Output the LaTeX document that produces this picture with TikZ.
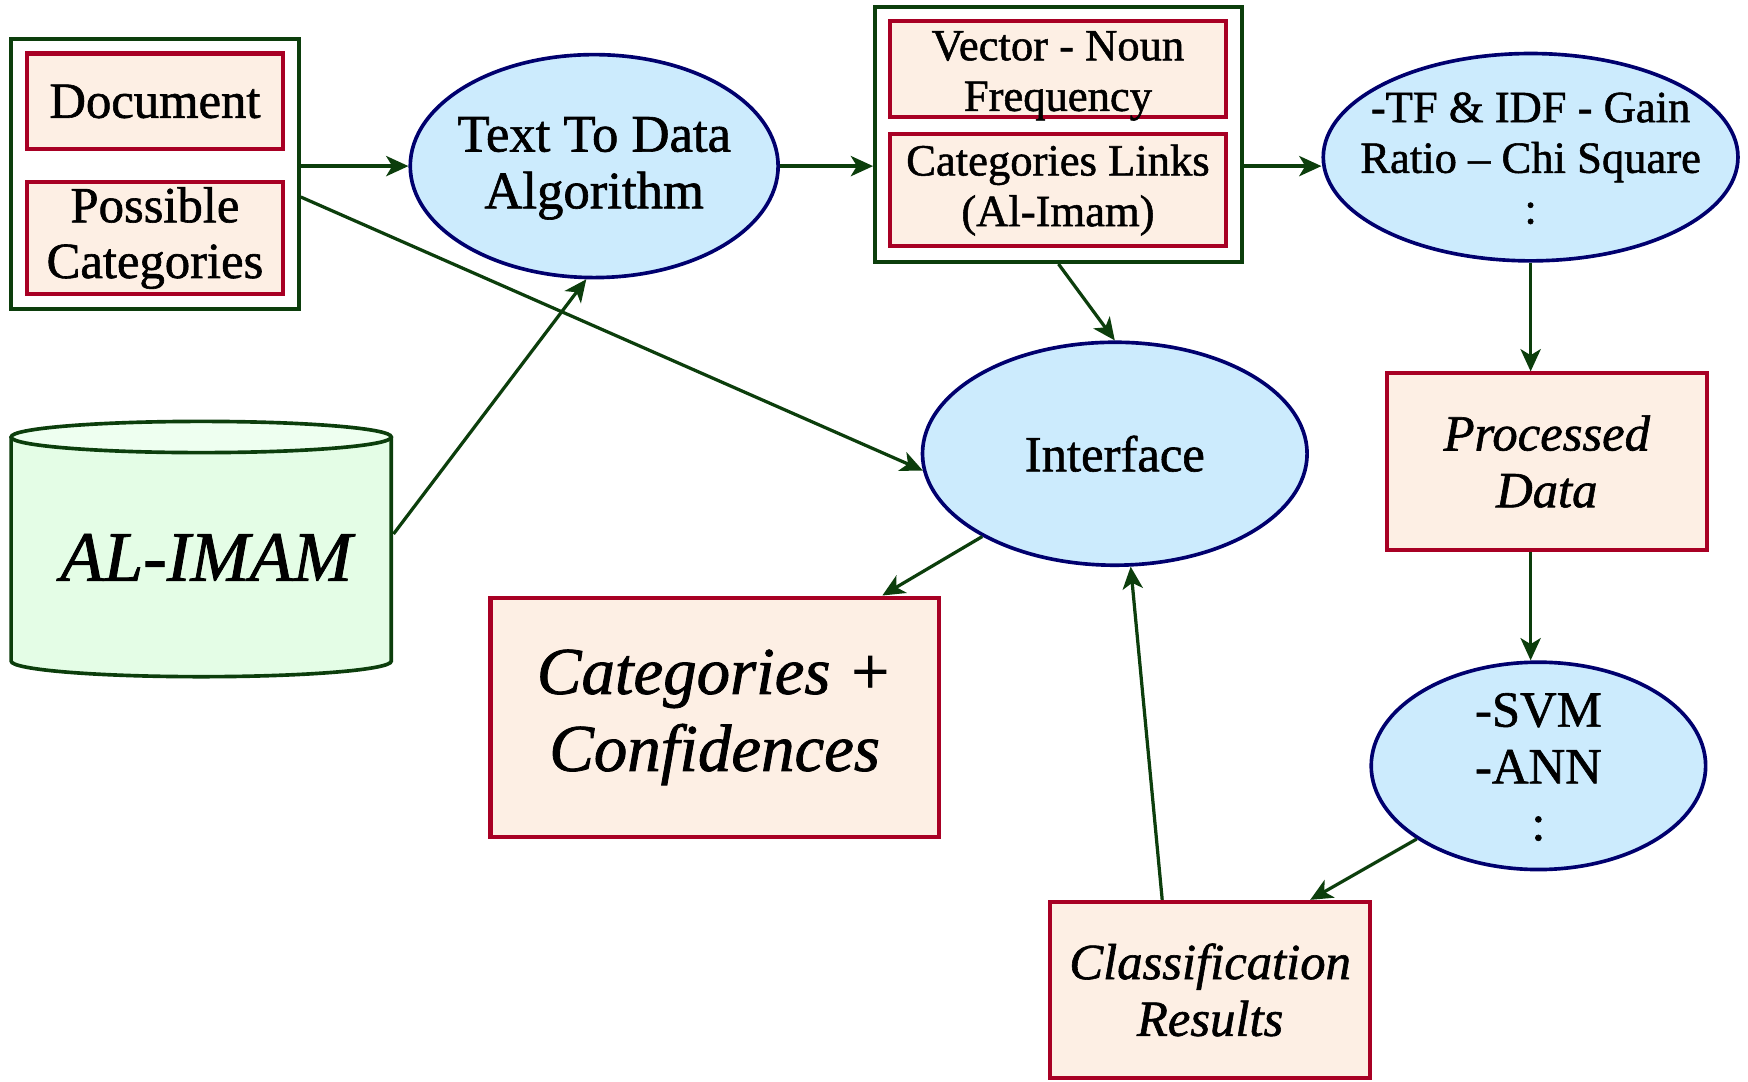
\documentclass[tikz,border=0pt]{standalone}
\usepackage{fontspec}
\setmainfont{Liberation Serif}[FakeBold=1.2]
\usetikzlibrary{arrows.meta,shapes.geometric}
\definecolor{dkgreen}{RGB}{12,62,12}
\definecolor{crimson}{RGB}{168,0,36}
\definecolor{peach}{RGB}{253,239,228}
\definecolor{skyb}{RGB}{204,235,253}
\definecolor{navyb}{RGB}{0,0,110}
\definecolor{cylfill}{RGB}{228,253,230}
\definecolor{cyltop}{RGB}{238,255,240}
\begin{document}
\begin{tikzpicture}[x=0.55pt,y=0.55pt,
  outerbox/.style={draw=dkgreen, line width=2pt, fill=white, inner sep=0pt},
  redbox/.style={draw=crimson, fill=peach, line width=2pt, inner sep=0pt, align=center},
  oval/.style={ellipse, draw=navyb, fill=skyb, line width=1.8pt, inner sep=0pt},
  label/.style={align=center, inner sep=0pt},
  conn/.style={draw=dkgreen, line width=1.6pt, -{Stealth[length=11pt,width=10pt,inset=3pt]}},
  big/.style={font=\fontsize{25}{27.5}\selectfont},
  mid/.style={font=\fontsize{22}{25}\selectfont}]
\useasboundingbox (0,0) rectangle (1568,-970);

% left group
\node[outerbox, minimum width=141.9pt, minimum height=133.1pt] (box1) at (139,-156) {};
\node[redbox, big, minimum width=126.5pt, minimum height=47.3pt] (doc) at (139,-91) {Document};
\node[redbox, big, minimum width=126.5pt, minimum height=55.55pt] (poss) at (139,-213.5) {Possible\\Categories};

% text to data
\node[oval, minimum width=181.5pt, minimum height=110pt] (t2d) at (533,-149) {};
\node[label, font=\fontsize{26}{28}\selectfont] (t2dtxt) at (533,-151) {Text To Data\\Algorithm};

% middle group
\node[outerbox, minimum width=180.95pt, minimum height=125.95pt] (box2) at (949.5,-120.5) {};
\node[redbox, minimum width=166.1pt, minimum height=47.3pt] (vec) at (949,-62) {};
\node[label, mid] (vectxt) at (949,-68) {Vector - Noun\\Frequency};
\node[redbox, mid, minimum width=166.1pt, minimum height=55.55pt] (catl) at (949,-170.5) {Categories Links\\(Al-Imam)};

% TF ellipse
\node[oval, minimum width=204.6pt, minimum height=102.3pt] (tf) at (1373,-141) {};
\node[label, mid] (tftxt) at (1373,-142) {-TF \& IDF - Gain\\Ratio -- Chi Square\\:};

% interface
\node[oval, minimum width=189.75pt, minimum height=110pt] (iface) at (1000,-407) {};
\node[label, big] (ifacetxt) at (1000,-407) {Interface};

% processed data
\node[redbox, font=\fontsize{25}{28}\selectfont\itshape, minimum width=157.85pt, minimum height=86.9pt] (proc) at (1387.5,-414) {Processed\\Data};

% SVM
\node[oval, minimum width=165pt, minimum height=102.3pt] (svm) at (1380,-687) {};
\node[label, font=\fontsize{25}{28}\selectfont] (svmtxt) at (1380,-688) {-SVM\\-ANN\\:};

% classification results
\node[redbox, font=\fontsize{25}{28}\selectfont\itshape, minimum width=157.85pt, minimum height=86.9pt] (cres) at (1085.5,-888) {Classification\\Results};

% categories + confidences
\node[redbox, font=\fontsize{33}{38}\selectfont\itshape, minimum width=221.1pt, minimum height=118.25pt] (conf) at (641,-643.5) {Categories +\\Confidences};

% cylinder
\fill[cylfill] (10,-392) -- (10,-593) arc[start angle=180,end angle=360,x radius=170.5,y radius=14] -- (351,-392) arc[start angle=0,end angle=180,x radius=170.5,y radius=14] -- cycle;
\fill[cyltop] (180.5,-392) ellipse [x radius=170.5, y radius=14];
\draw[dkgreen, line width=1.8pt] (10,-392) -- (10,-593) arc[start angle=180,end angle=360,x radius=170.5,y radius=14] -- (351,-392);
\draw[dkgreen, line width=1.8pt] (180.5,-392) ellipse [x radius=170.5, y radius=14];
\node[label, font=\fontsize{35}{40}\selectfont\itshape] (db) at (185,-500) {AL-IMAM};
\coordinate (dbR) at (353,-479);

% connectors
\draw[conn] (box1.east |- t2d.west) -- (t2d.west);
\draw[conn] (t2d.east) -- (t2d.east -| box2.west);
\draw[conn] (box2.east |- t2d.east) -- (tf.west |- t2d.east);
\draw[conn] (tf.south) -- (tf.south |- proc.north);
\draw[conn] (proc.south -| tf.south) -- (tf.south |- svm.north);
\draw[conn] (svm.211) -- (cres.42);
\draw[conn] (cres.118) -- (iface.-82);
\draw[conn] (iface.212) -- (conf.36);
\draw[conn] (box2.south) -- (iface.north);
\draw[conn] (box1.-9.5) -- (iface.185);
\draw[conn] (dbR) -- (t2d.266);
\end{tikzpicture}
\end{document}
